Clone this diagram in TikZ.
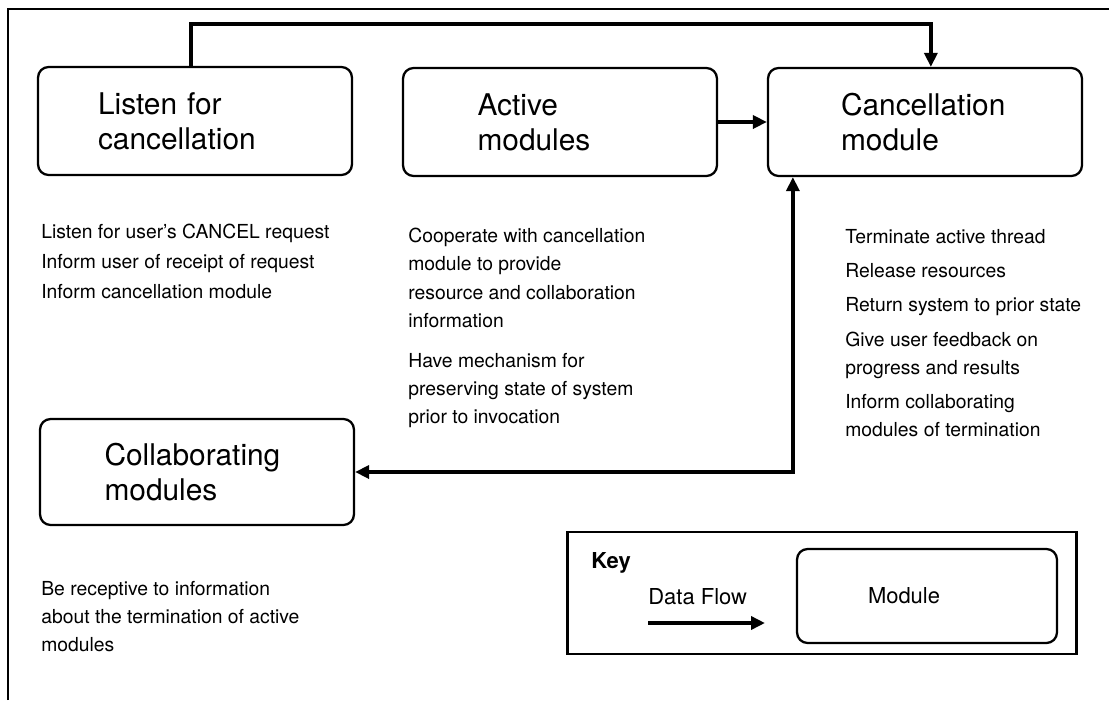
\documentclass[tikz,border=0pt]{standalone}
\usepackage{fontspec}
\setmainfont{TeX Gyre Heros}
\usetikzlibrary{arrows.meta}

\begin{document}
\begin{tikzpicture}[x=0.02cm, y=-0.02cm, >={Triangle[length=0.28cm, width=0.26cm]},
    module/.style={draw, line width=1.3pt, rounded corners=6pt, minimum width=6.28cm,
      minimum height=2.16cm, inner sep=0pt, align=left, font=\fontsize{17}{20}\selectfont},
    notes/.style={anchor=north west, inner sep=0pt, align=left, font=\fontsize{11}{16}\selectfont},
    keytext/.style={inner sep=0pt, anchor=west, font=\fontsize{12.5}{15}\selectfont},
    flow/.style={line width=2.2pt}]
    \useasboundingbox (0,0) rectangle (1109,700);
    \draw [line width=1.6pt] (8,700) |- (1109,9);

    \node [module, text width=3.88cm] (listen) at (195,121) {Listen for\\cancellation};
    \node [module, text width=3.3cm] (active) at (560,122) {Active\\modules};
    \node [module, text width=3.36cm] (cancel) at (925,122) {Cancellation\\module};
    \node [module, text width=3.7cm, minimum height=2.12cm] (collab) at (197,472) {Collaborating\\modules};

    \node [notes] (listennotes) at (41,224) {Listen for user's CANCEL request\\[1pt]
      Inform user of receipt of request\\[1pt]
      Inform cancellation module};
    \node [notes] (activenotes) at (408,228) {Cooperate with cancellation\\
      module to provide\\
      resource and collaboration\\
      information\\[7pt]
      Have mechanism for\\
      preserving state of system\\
      prior to invocation};
    \node [notes] (cancelnotes) at (845,229) {Terminate active thread\\[3.5pt]
      Release resources\\[3.5pt]
      Return system to prior state\\[3.5pt]
      Give user feedback on\\
      progress and results\\[3.5pt]
      Inform collaborating\\
      modules of termination};
    \node [notes] (collabnotes) at (41,581) {Be receptive to information\\
      about the termination of active\\
      modules};

    \draw [flow, ->] ([xshift=3.08cm]listen.north west) -- ++(0,-42) -| ([xshift=3.28cm]cancel.north west);
    \draw [flow, ->] (active.east) -- (active.east -| cancel.west);
    \draw [flow, <->] (collab.east) -| ([xshift=0.52cm]cancel.south west);

    \node [draw, line width=1.3pt, minimum width=10.18cm, minimum height=2.44cm] (key) at (822,593) {};
    \node [keytext, font=\fontsize{12.5}{15}\selectfont\bfseries] (keylabel) at (591,563) {Key};
    \node [keytext] (flowlabel) at (648,597) {Data Flow};
    \coordinate (flowstart) at (648,623);
    \coordinate (flowend) at (765,623);
    \draw [flow, ->] (flowstart) -- (flowend);
    \node [module, minimum width=5.2cm, minimum height=1.88cm, text width=2.36cm,
      font=\fontsize{12.5}{15}\selectfont] (sample) at (927,596) {Module};
\end{tikzpicture}
\end{document}
